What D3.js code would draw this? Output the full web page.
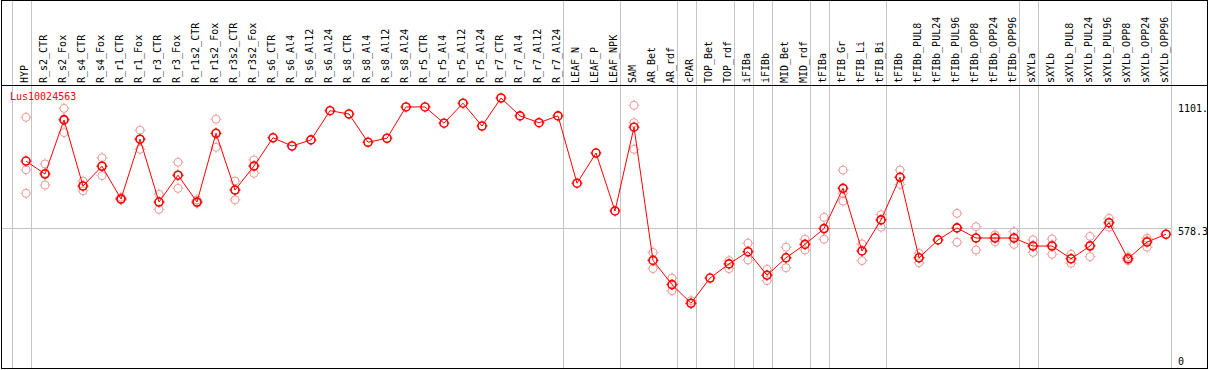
<!DOCTYPE html>
<html>
<head>
<meta charset="utf-8">
<script src="https://cdn.jsdelivr.net/npm/d3@7"></script>
<style>
  body { margin: 0; background: #fff; }
  svg { display: block; }
  text { font-family: "DejaVu Sans Mono", monospace; font-size: 10px; }
</style>
</head>
<body>
<div id="chart"></div>
<script>
var geneName = "Lus10024563";

var samples = ["HYP","R_s2_CTR","R_s2_Fox","R_s4_CTR","R_s4_Fox","R_r1_CTR","R_r1_Fox","R_r3_CTR","R_r3_Fox",
  "R_r1s2_CTR","R_r1s2_Fox","R_r3s2_CTR","R_r3s2_Fox","R_s6_CTR","R_s6_Al4","R_s6_Al12","R_s6_Al24",
  "R_s8_CTR","R_s8_Al4","R_s8_Al12","R_s8_Al24","R_r5_CTR","R_r5_Al4","R_r5_Al12","R_r5_Al24",
  "R_r7_CTR","R_r7_Al4","R_r7_Al12","R_r7_Al24","LEAF_N","LEAF_P","LEAF_NPK","SAM","AR_Bet","AR_rdf",
  "cPAR","TOP_Bet","TOP_rdf","iFIBa","iFIBb","MID_Bet","MID_rdf","tFIBa","tFIB_Gr","tFIB_Li","tFIB_Bi",
  "tFIBb","tFIBb_PUL8","tFIBb_PUL24","tFIBb_PUL96","tFIBb_OPP8","tFIBb_OPP24","tFIBb_OPP96",
  "sXYLa","sXYLb","sXYLb_PUL8","sXYLb_PUL24","sXYLb_PUL96","sXYLb_OPP8","sXYLb_OPP24","sXYLb_OPP96"];

// mean expression per sample
var means = [864, 809, 1039, 758, 842, 703, 957, 690, 804,
  690, 982, 741, 843, 963, 928, 954, 1078,
  1064, 944, 961, 1094, 1094, 1025, 1110, 1013,
  1132, 1056, 1027, 1056, 770, 898, 652, 1008, 442, 339,
  260, 367, 427, 479, 379, 453, 510, 577, 748, 482, 614,
  795, 453, 529, 580, 537, 537, 537,
  503, 503, 449, 503, 602, 449, 520, 553];

// individual replicates (empty where none show)
var replicates = [[1050, 827, 727], [852, 813, 762], [1088, 1043, 985], [779, 758, 738], [878, 843, 802],
  [710, 703, 699], [995, 958, 914], [723, 690, 659], [859, 804, 748],
  [699, 685, 690], [1042, 982, 923], [779, 741, 699], [869, 843, 812], [], [], [], [],
  [], [], [], [], [], [], [], [],
  [], [], [], [], [], [], [], [1101, 1027, 914], [476, 442, 407], [367, 339, 313],
  [271, 260, 257], [], [441, 427, 407], [515, 479, 444], [404, 379, 356], [498, 453, 411], [532, 510, 486],
  [625, 577, 532], [826, 727, 694], [512, 482, 441], [636, 614, 583],
  [826, 795, 765], [472, 453, 432], [], [642, 580, 519], [585, 537, 486], [540, 521, 550], [564, 510, 537],
  [529, 476, 503], [533, 468, 508], [468, 430, 449], [544, 458, 507], [621, 583, 602], [441, 449, 457],
  [536, 498, 526], []];

// last sample of each group (a separator follows it)
var groupEnds = ["HYP","R_r7_Al24","LEAF_NPK","AR_rdf","cPAR","TOP_rdf","iFIBa","iFIBb","MID_rdf",
  "tFIBa","tFIB_Bi","tFIBb_OPP96","sXYLa","sXYLb_OPP96"];

var tickValues = [1101, 578.3, 0];
var tickLabels = ["1101.", "578.3", "0"];
var refLine = 578.3;

var W = 1209, H = 370;
var headerBottom = 85.5;

var svg = d3.select("#chart").append("svg")
  .attr("width", W).attr("height", H);

svg.append("defs").append("clipPath").attr("id", "frameClip")
  .append("rect").attr("x", 1.5).attr("y", 0.5).attr("width", 1206).attr("height", 368);

var x = d3.scalePoint().domain(samples).range([26, 1166]);
var step = x.step();
var y = d3.scaleLinear().domain([0, 1101]).range([364.4, 105.3]);

var root = svg.append("g").attr("clip-path", "url(#frameClip)");

// group separators
var sepX = [x(samples[0]) - step + 4.5].concat(groupEnds.map(function(d){ return x(d) + 4.5; }));
root.append("g").selectAll("line")
  .data(sepX).enter().append("line")
  .attr("x1", function(d){ return Math.round(d) + 0.5; })
  .attr("x2", function(d){ return Math.round(d) + 0.5; })
  .attr("y1", 0).attr("y2", H)
  .attr("stroke", "#c4c4c4").attr("stroke-width", 1);

// reference line
root.append("line")
  .attr("x1", 0).attr("x2", Math.round(sepX[sepX.length - 1]) + 0.5)
  .attr("y1", Math.round(y(refLine)) + 0.5).attr("y2", Math.round(y(refLine)) + 0.5)
  .attr("stroke", "#c4c4c4").attr("stroke-width", 1);

// header labels
root.append("g").selectAll("text")
  .data(samples).enter().append("text")
  .attr("transform", function(d){ return "translate(" + (x(d) - 1.5) + ",83) rotate(-90)"; })
  .attr("dy", "0.35em")
  .attr("fill", "#000")
  .text(function(d){ return d; });

root.append("line")
  .attr("x1", 0).attr("x2", W)
  .attr("y1", headerBottom).attr("y2", headerBottom)
  .attr("stroke", "#000").attr("stroke-width", 1);

// y tick labels
root.append("g").selectAll("text")
  .data(tickValues).enter().append("text")
  .attr("x", 1178)
  .attr("y", function(d){ return Math.min(y(d) + 3.4, 361.7); })
  .attr("dy", "0.35em")
  .attr("fill", "#000")
  .text(function(d, i){ return tickLabels[i]; });

// gene name
root.append("text")
  .attr("x", 10).attr("y", 100)
  .attr("fill", "#ff0000")
  .text(geneName);

function marker(sel, r, color, sw) {
  sel.append("circle").attr("r", r)
    .attr("fill", "none").attr("stroke", color).attr("stroke-width", sw);
  sel.append("path")
    .attr("d", "M0," + (-r - 1.5) + "V" + (-r) + "M0," + r + "V" + (r + 1.5) +
               "M" + (-r - 1.5) + ",0H" + (-r) + "M" + r + ",0H" + (r + 1.5))
    .attr("stroke", color).attr("stroke-width", 1);
}

// replicates
var repData = [];
samples.forEach(function(s, i){
  replicates[i].forEach(function(v){ repData.push({s: s, v: v}); });
});
root.append("g").selectAll("g")
  .data(repData).enter().append("g")
  .attr("transform", function(d){ return "translate(" + x(d.s) + "," + y(d.v) + ")"; })
  .call(marker, 4, "#ee9a9a", 1);

// mean line
var line = d3.line()
  .x(function(d, i){ return x(samples[i]); })
  .y(function(d){ return y(d); });
root.append("path")
  .datum(means)
  .attr("d", line)
  .attr("fill", "none").attr("stroke", "#ff0000").attr("stroke-width", 1);

root.append("g").selectAll("g")
  .data(means).enter().append("g")
  .attr("transform", function(d, i){ return "translate(" + x(samples[i]) + "," + y(d) + ")"; })
  .call(marker, 4, "#ff0000", 1.6);

// frame
svg.append("rect")
  .attr("x", 1.5).attr("y", 0.5).attr("width", 1206).attr("height", 368)
  .attr("fill", "none").attr("stroke", "#000").attr("stroke-width", 1);
</script>
</body>
</html>
